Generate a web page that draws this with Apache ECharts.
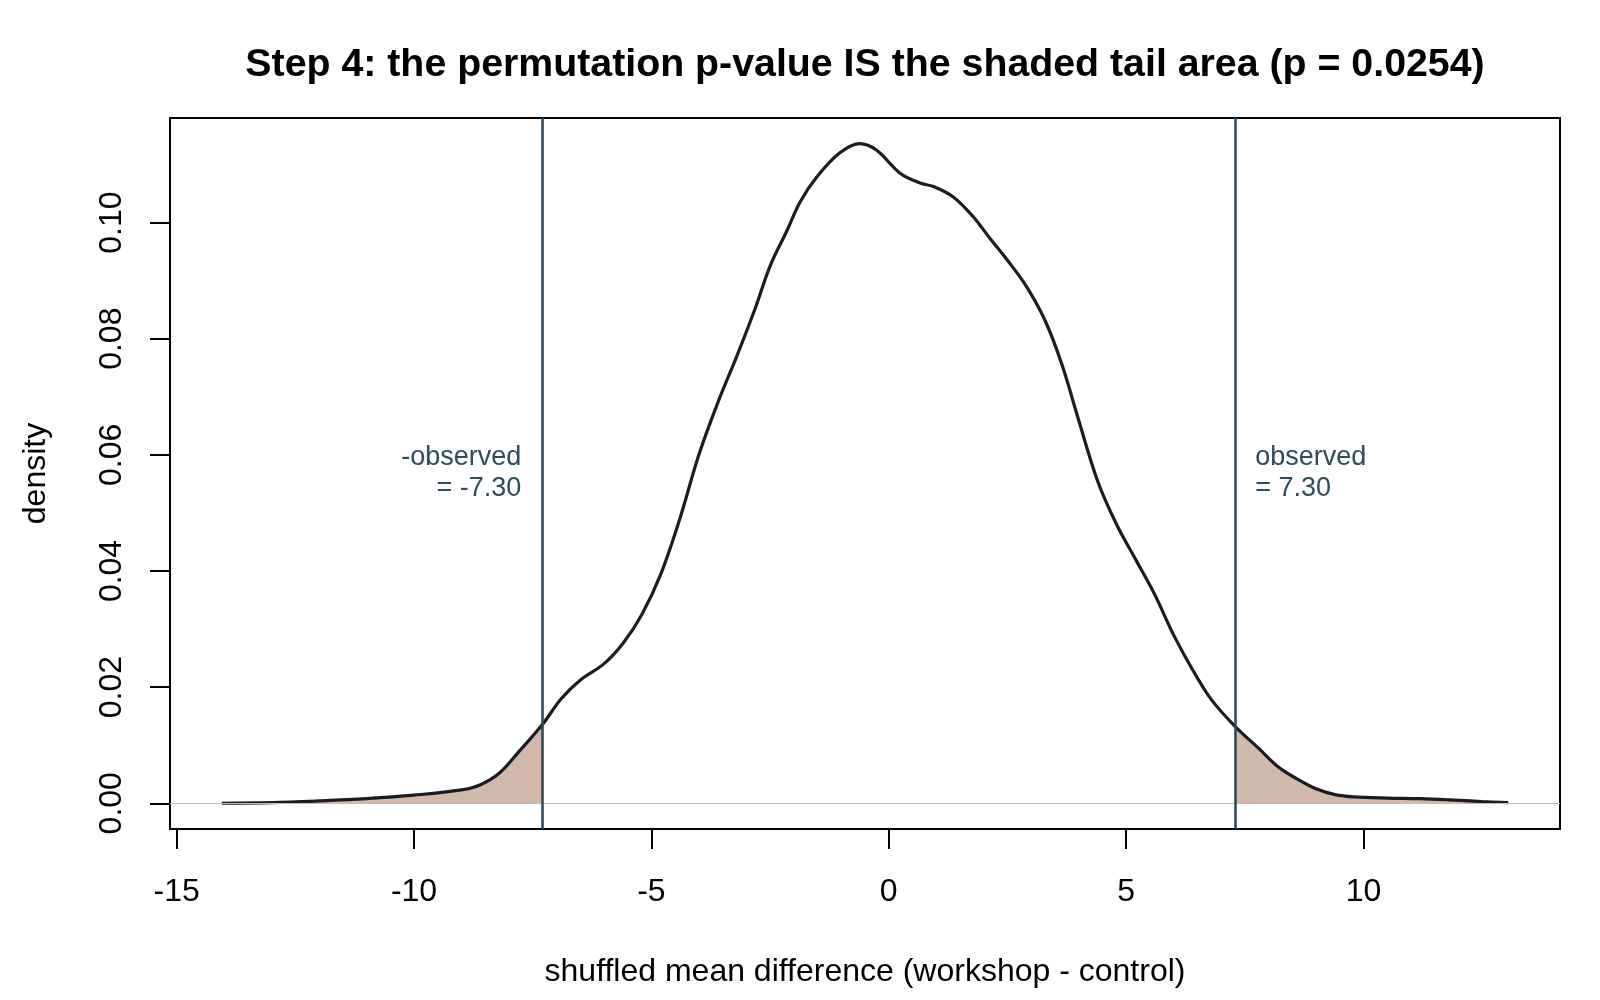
<!DOCTYPE html>
<html>
<head>
<meta charset="utf-8">
<script src="https://cdn.jsdelivr.net/npm/echarts@6/dist/echarts.min.js"></script>
<style>
  html, body { margin: 0; padding: 0; background: #fff; }
  #chart { width: 1600px; height: 1000px; }
</style>
</head>
<body>
<div id="chart"></div>
<script>
// density of shuffled mean differences
const xs = [-14.05, -13.0, -12.0, -11.0, -10.0, -9.0, -8.6, -8.2, -7.8, -7.3,
  -6.9, -6.5, -6.0, -5.6, -5.2, -4.8, -4.4, -4.0, -3.6, -3.2,
  -2.8, -2.5, -2.15, -1.87, -1.52, -1.03, -0.61, -0.26, 0.24, 0.66,
  0.94, 1.36, 1.78, 2.13, 2.5, 2.9, 3.3, 3.65, 4.0, 4.4,
  4.8, 5.2, 5.6, 6.0, 6.4, 6.8, 7.3, 7.8, 8.2, 8.6,
  9.0, 9.4, 9.8, 10.5, 11.2, 11.8, 12.5, 13.05];
const ys = [0.0000, 0.0001, 0.0004, 0.0008, 0.0014, 0.0023, 0.0032, 0.0052, 0.0088, 0.0135,
  0.0180, 0.0212, 0.0240, 0.0275, 0.0325, 0.0395, 0.0490, 0.0600, 0.0690, 0.0770,
  0.0855, 0.0925, 0.0985, 0.1035, 0.1078, 0.1120, 0.1136, 0.1125, 0.1085, 0.1068,
  0.1062, 0.1044, 0.1010, 0.0973, 0.0935, 0.0890, 0.0830, 0.0755, 0.0660, 0.0555,
  0.0480, 0.0420, 0.0360, 0.0290, 0.0230, 0.0178, 0.0132, 0.0094, 0.0063, 0.0042,
  0.0025, 0.0015, 0.0011, 0.0009, 0.0008, 0.0006, 0.0003, 0.0001];

const observed = 7.30;
const xTicks = [-15, -10, -5, 0, 5, 10];
const yTicks = [0, 0.02, 0.04, 0.06, 0.08, 0.10];

const FONT = "'Liberation Sans', Arial, sans-serif";
const lineCol = "#2e4a5b";

const curve = xs.map((x, i) => [x, ys[i]]);
const leftTail = curve.filter(p => p[0] <= -observed);
const rightTail = curve.filter(p => p[0] >= observed);

const chart = echarts.init(document.getElementById("chart"));

const option = {
  backgroundColor: "#fff",
  animation: false,
  title: {
    text: "Step 4: the permutation p-value IS the shaded tail area (p = 0.0254)",
    left: 860,
    top: 41,
    textAlign: "center",
    textStyle: { fontFamily: FONT, fontSize: 39.3, fontWeight: "bold", color: "#000" },
  },
  grid: {
    left: 170,
    right: 40,
    top: 118,
    bottom: 171,
    show: true,
    borderColor: "#000",
    borderWidth: 2,
    backgroundColor: "transparent",
  },
  xAxis: {
    type: "value",
    min: -15.14,
    max: 14.14,
    name: "shuffled mean difference (workshop - control)",
    nameLocation: "middle",
    nameGap: 127,
    nameTextStyle: { fontFamily: FONT, fontSize: 32, color: "#000" },
    axisLine: { show: false, onZero: false },
    splitLine: { show: false },
    axisTick: {
      show: true,
      length: 20,
      customValues: xTicks,
      lineStyle: { color: "#000", width: 2 },
    },
    axisLabel: {
      customValues: xTicks,
      margin: 47,
      fontFamily: FONT,
      fontSize: 32,
      color: "#000",
    },
  },
  yAxis: {
    type: "value",
    min: -0.00443,
    max: 0.118,
    name: "density",
    nameLocation: "middle",
    nameGap: 118,
    nameTextStyle: { fontFamily: FONT, fontSize: 32, color: "#000" },
    axisLine: { show: false, onZero: false },
    splitLine: { show: false },
    axisTick: {
      show: true,
      length: 20,
      customValues: yTicks,
      lineStyle: { color: "#000", width: 2 },
    },
    axisLabel: {
      customValues: yTicks,
      rotate: 90,
      margin: 42,
      fontFamily: FONT,
      fontSize: 32,
      color: "#000",
      formatter: v => v.toFixed(2),
    },
  },
  series: [
    {
      // 左尾阴影
      type: "line",
      data: leftTail,
      smooth: 0.35,
      showSymbol: false,
      lineStyle: { width: 0 },
      areaStyle: { color: "#d2b8aa", opacity: 1 },
      z: 1,
      silent: true,
    },
    {
      // 右尾阴影
      type: "line",
      data: rightTail,
      smooth: 0.35,
      showSymbol: false,
      lineStyle: { width: 0 },
      areaStyle: { color: "#d2b8aa", opacity: 1 },
      z: 1,
      silent: true,
    },
    {
      type: "line",
      data: curve,
      smooth: 0.35,
      showSymbol: false,
      lineStyle: { color: "#1c1c1c", width: 3.2 },
      z: 3,
      silent: true,
      markLine: {
        silent: true,
        symbol: "none",
        label: { show: false },
        data: [
          { yAxis: 0, lineStyle: { color: "#bebebe", width: 1, type: "solid" } },
          { xAxis: -observed, lineStyle: { color: lineCol, width: 2.6, type: "solid" } },
          { xAxis: observed, lineStyle: { color: lineCol, width: 2.6, type: "solid" } },
        ],
      },
    },
    {
      type: "scatter",
      symbolSize: 0,
      silent: true,
      z: 4,
      itemStyle: { opacity: 1 },
      data: [
        {
          value: [-7.74, 0.0569],
          label: {
            show: true,
            position: "left",
            distance: 0,
            align: "right",
            formatter: "-observed\n= -7.30",
          },
        },
        {
          value: [7.72, 0.0569],
          label: {
            show: true,
            position: "right",
            distance: 0,
            align: "left",
            formatter: "observed\n= 7.30",
          },
        },
      ],
      label: {
        fontFamily: FONT,
        fontSize: 27,
        lineHeight: 31,
        color: lineCol,
        opacity: 1,
      },
    },
  ],
};

chart.setOption(option);
</script>
</body>
</html>
